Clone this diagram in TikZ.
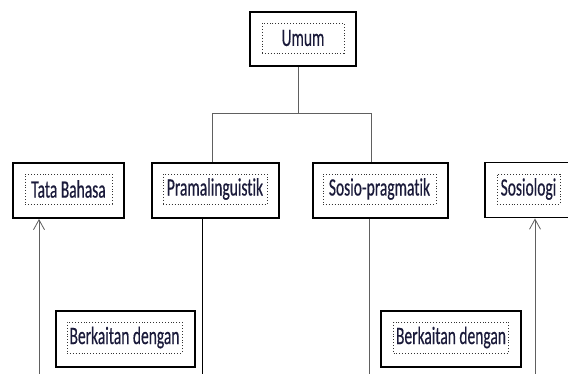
\documentclass[tikz,border=0pt]{standalone}
\usepackage{fontspec}
\newfontfamily\calfont[FakeStretch=0.62,FakeBold=0.4,RawFeature={-liga}]{Carlito}
\usetikzlibrary{arrows.meta}
\definecolor{txt}{HTML}{1A1A3A}
\definecolor{lin}{HTML}{606060}
\tikzset{
  outerbox/.style={draw=black, line width=1.9pt, fill=white, minimum width=#1, minimum height=55pt, inner sep=0pt},
  innerbox/.style={draw=black!80, line width=0.9pt, dotted, minimum width=#1, minimum height=30pt, inner sep=0pt, font=\calfont\fontsize{25}{27}\selectfont, text=txt},
  conn/.style={draw=lin, line width=0.8pt},
  blk/.style={draw=black, line width=0.8pt},
  arr/.style={draw=lin, line width=0.8pt, -{Straight Barb[length=10pt,width=11pt,line width=0.8pt]}}
}
\begin{document}
\begin{tikzpicture}[x=1pt,y=-1pt]
\useasboundingbox (0,0) rectangle (568,374);
\clip (0,0) rectangle (568,374);
\fill[white] (0,0) rectangle (568,374);
% outer boxes
\node[outerbox=106pt, minimum height=54pt] (umum) at (303,39) {};
\node[outerbox=111pt] (tata) at (68.5,190.5) {};
\node[outerbox=127pt] (pram) at (215.5,190.5) {};
\node[outerbox=135pt] (sosp) at (380.5,190.5) {};
\node[outerbox=90pt] (sosl) at (530,190) {};
\node[outerbox=139pt, minimum height=56pt] (berk1) at (125.5,339) {};
\node[outerbox=140pt, minimum height=56pt] (berk2) at (451,339) {};
% inner boxes with text
\node[innerbox=82pt] (tumum) at (303,38) {Umum};
\node[innerbox=87pt] (ttata) at (68.5,189) {Tata Bahasa};
\node[innerbox=104pt] (tpram) at (215,189) {Pramalinguistik};
\node[innerbox=113pt] (tsosp) at (379.5,189) {Sosio-pragmatik};
\node[innerbox=63pt] (tsosl) at (528.5,189) {Sosiologi};
\node[innerbox=115pt, minimum height=31pt] (tberk1) at (124.5,337.5) {Berkaitan dengan};
\node[innerbox=115pt, minimum height=31pt] (tberk2) at (451,337.5) {Berkaitan dengan};
% tree connectors
\coordinate (ju) at (298,113);
\coordinate (jl) at (212,113);
\coordinate (jr) at (371,113);
\draw[conn] (umum.south -| ju) -- (ju);
\draw[conn] (pram.north -| jl) -- (jl) -- (jr) -- (sosp.north -| jr);
% bottom lines
\coordinate (bp) at (202,374);
\coordinate (bs) at (369,374);
\coordinate (at) at (39,374);
\coordinate (as) at (535,374);
\draw[blk] (pram.south -| bp) -- (bp);
\draw[conn] (sosp.south -| bs) -- (bs);
\draw[arr] (at) -- (tata.south -| at);
\draw[arr] (as) -- (sosl.south -| as);
\end{tikzpicture}
\end{document}
